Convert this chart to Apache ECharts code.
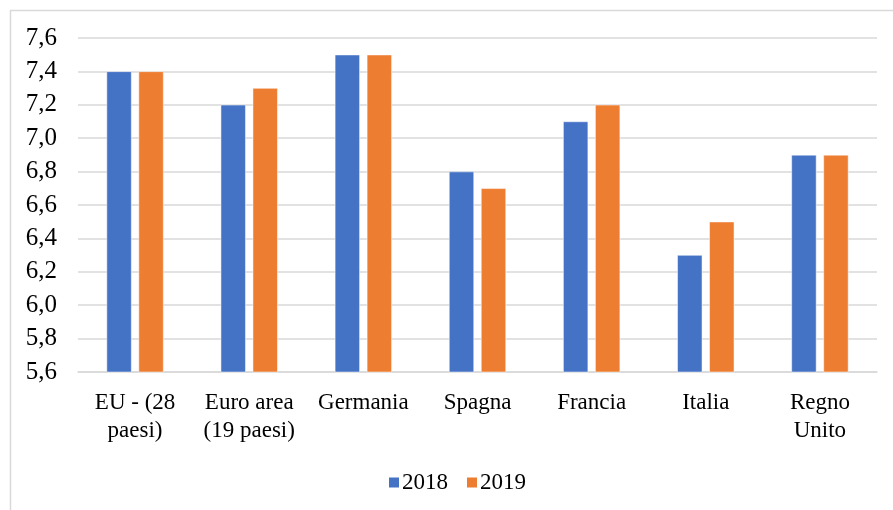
<!DOCTYPE html>
<html>
<head>
<meta charset="utf-8">
<script src="https://cdn.jsdelivr.net/npm/echarts@6/dist/echarts.min.js"></script>
<style>
  html, body { margin: 0; padding: 0; background: #fff; }
  #chart { width: 893px; height: 510px; }
</style>
</head>
<body>
<div id="chart"></div>
<script>
// categorie (paesi)
const categories = ['EU - (28\npaesi)', 'Euro area\n(19 paesi)', 'Germania', 'Spagna', 'Francia', 'Italia', 'Regno\nUnito']
// valori per anno
const values2018 = [7.4, 7.2, 7.5, 6.8, 7.1, 6.3, 6.9]
const values2019 = [7.4, 7.3, 7.5, 6.7, 7.2, 6.5, 6.9]
const seriesNames = ['2018', '2019']

const FONT = '"Liberation Serif", "Times New Roman", serif'

const chart = echarts.init(document.getElementById('chart'))

const option = {
  animation: false,
  backgroundColor: '#fff',
  textStyle: { fontFamily: FONT },
  // cornice esterna
  graphic: [
    {
      type: 'rect',
      shape: { x: 10.5, y: 10.5, width: 900, height: 520 },
      style: { fill: 'none', stroke: '#d9d9d9', lineWidth: 1.5 },
      silent: true
    }
  ],
  grid: {
    left: 78,
    right: 16,
    top: 38,
    bottom: 138
  },
  legend: {
    data: seriesNames,
    left: 382,
    top: 466,
    itemWidth: 12,
    itemHeight: 12,
    itemGap: 17,
    icon: 'rect',
    textStyle: {
      color: '#000',
      fontSize: 23,
      fontFamily: FONT,
      padding: [0, 0, 0, -3]
    }
  },
  xAxis: {
    type: 'category',
    data: categories,
    axisLine: { lineStyle: { color: '#d9d9d9', width: 1.5 } },
    axisTick: { show: false },
    axisLabel: {
      color: '#000',
      fontSize: 23,
      fontFamily: FONT,
      lineHeight: 28,
      margin: 17,
      interval: 0
    }
  },
  yAxis: {
    type: 'value',
    min: 5.6,
    max: 7.6,
    interval: 0.2,
    axisLine: { show: false },
    axisTick: { show: false },
    splitLine: { lineStyle: { color: '#d9d9d9', width: 1.5 } },
    axisLabel: {
      color: '#000',
      fontSize: 25,
      fontFamily: FONT,
      margin: 21,
      formatter: function (v) {
        return v.toFixed(1).replace('.', ',')
      }
    }
  },
  series: [
    {
      name: '2018',
      type: 'bar',
      barWidth: 25,
      barGap: '28%',
      itemStyle: { color: '#4472c4', borderColor: '#fff', borderWidth: 0.5 },
      data: values2018
    },
    {
      name: '2019',
      type: 'bar',
      barWidth: 25,
      itemStyle: { color: '#ed7d31', borderColor: '#fff', borderWidth: 0.5 },
      data: values2019
    }
  ]
}

chart.setOption(option)
</script>
</body>
</html>
